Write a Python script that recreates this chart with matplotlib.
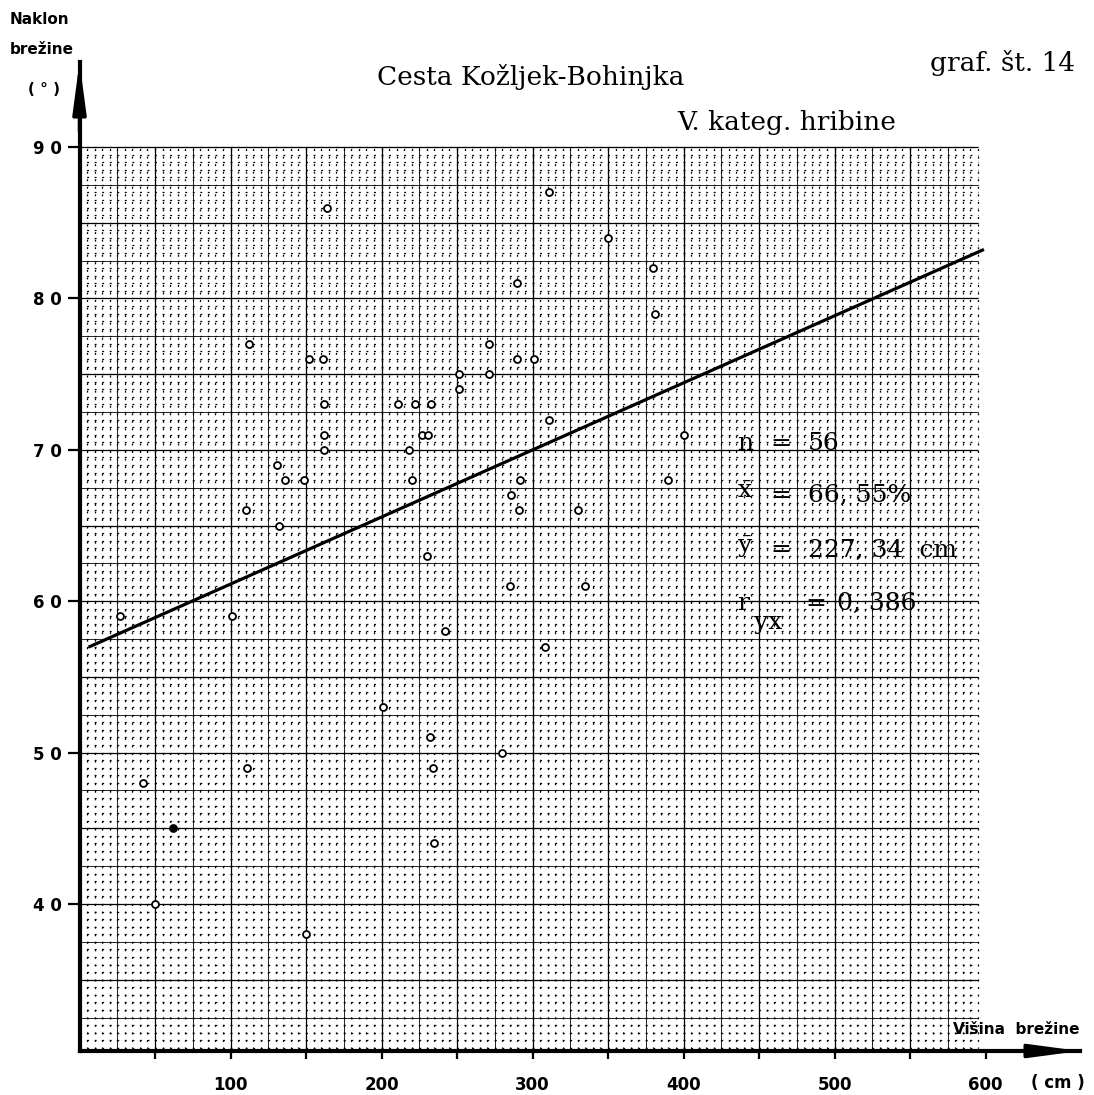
import numpy as np
import matplotlib
matplotlib.use("Agg")
import matplotlib.pyplot as plt

plt.rcParams['lines.scale_dashes'] = False
plt.rcParams['mathtext.fontset'] = 'dejavuserif'

W, H = 1094, 1095
DPI = 100

# measured points: height of slope (cm) vs slope angle (deg)
height_cm = [27, 42, 50, 101, 110, 111, 112, 131, 132, 136, 149, 150, 152,
             161, 162, 162, 162, 164, 201, 211, 218, 220, 222, 227, 231, 230,
             232, 233, 234, 235, 242, 251, 251, 271, 271, 280, 286, 285, 290,
             290, 291, 292, 301, 308, 311, 311, 330, 335, 350, 380, 381, 390,
             400]
slope_deg = [59, 48, 40, 59, 66, 49, 77, 69, 65, 68, 68, 38, 76,
             76, 73, 71, 70, 86, 53, 73, 70, 68, 73, 71, 71, 63,
             51, 73, 49, 44, 58, 75, 74, 77, 75, 50, 67, 61, 81,
             76, 66, 68, 76, 57, 87, 72, 66, 61, 84, 82, 79, 68,
             71]
filled_height = [62]
filled_slope = [45]

# regression line y = a + b*x
reg_a = 56.7
reg_b = 0.0443
reg_x = [7, 598]

x_major = [100, 200, 300, 400, 500, 600]
x_minor = [50, 150, 250, 350, 450, 550]
y_ticks = [40, 50, 60, 70, 80, 90]
y_tick_labels = ['4 0', '5 0', '6 0', '7 0', '8 0', '9 0']

# pixel scale of the original sheet
px_cm = 1.51
px_deg = 15.14
x0_px, y90_px = 79.5, 147
axis_px, top_px, right_px = 1051, 62, 1080


def fx(px):
    return px / W


def fy(py):
    return 1 - py / H


fig = plt.figure(figsize=(W / DPI, H / DPI), dpi=DPI)
ax = fig.add_axes([fx(x0_px), fy(axis_px), (right_px - x0_px) / W,
                   (axis_px - top_px) / H])
ax.set_xlim(0, (right_px - x0_px) / px_cm)
ax.set_ylim(90 - (axis_px - y90_px) / px_deg, 90 + (y90_px - top_px) / px_deg)
ymin = ax.get_ylim()[0]

# graph paper
gx_max = 595
period = 7.55 * 72 / DPI
fine = (0.7, (1.4, period - 1.4))
fine_x = np.arange(0, gx_max + 1, 5)
fine_y = np.arange(30.5, 90.01, 0.5)
ax.vlines(fine_x, 30.5, 90, colors='k', linewidth=0.9, linestyles=[fine], zorder=1)
ax.hlines(fine_y, 0, gx_max, colors='k', linewidth=0.9, linestyles=[fine], zorder=1)
mid_x = np.arange(25, gx_max, 50)
mid_y = np.arange(32.5, 90, 5)
ax.vlines(mid_x, ymin, 90, colors='k', linewidth=0.6, zorder=2)
ax.hlines(mid_y, 0, gx_max, colors='k', linewidth=0.6, zorder=2)
big_x = np.arange(50, gx_max, 50)
big_y = np.arange(35, 90.01, 5)
ax.vlines(big_x, ymin, 90, colors='k', linewidth=0.9, zorder=2)
ax.hlines(big_y, 0, gx_max, colors='k', linewidth=0.9, zorder=2)

# regression line and points
reg_y = [reg_a + reg_b * v for v in reg_x]
ax.plot(reg_x, reg_y, color='k', linewidth=2.3, zorder=4)
ax.plot(height_cm, slope_deg, 'o', ms=5, mfc='white', mec='k', mew=1.3, zorder=5)
ax.plot(filled_height, filled_slope, 'o', ms=5, mfc='k', mec='k', mew=1.3, zorder=5)

# axes
for s in ['top', 'right']:
    ax.spines[s].set_visible(False)
for s in ['left', 'bottom']:
    ax.spines[s].set_linewidth(3)
    ax.spines[s].set_zorder(6)

tick_font = dict(family='DejaVu Sans', weight='bold', size=12)
ax.set_yticks(y_ticks)
ax.set_yticklabels(y_tick_labels, **tick_font)
ax.tick_params(axis='y', direction='out', length=8.5, width=1.6, pad=4)
ax.set_xticks(x_major)
ax.set_xticklabels([str(v) for v in x_major], **tick_font)
ax.set_xticks(x_minor, minor=True)
ax.tick_params(axis='x', which='both', direction='out', length=6, width=1.6, pad=12)

arrow = dict(arrowstyle='-|>,head_length=1.5,head_width=0.2', color='k',
             lw=2.5, mutation_scale=20, shrinkA=0, shrinkB=0)
ax.annotate('', xy=(1, 0), xytext=(0.9, 0), xycoords='axes fraction',
            arrowprops=arrow, annotation_clip=False, zorder=7)
ax.annotate('', xy=(0, 1), xytext=(0, 0.93), xycoords='axes fraction',
            arrowprops=arrow, annotation_clip=False, zorder=7)

# axis captions
lab = dict(family='DejaVu Sans', weight='bold', size=11, va='center', ha='left')
fig.text(fx(10), fy(20), 'Naklon', **lab)
fig.text(fx(10), fy(49), 'brežine', **lab)
fig.text(fx(28), fy(90), '( ° )', **lab)
fig.text(fx(953), fy(1030), 'Višina  brežine', **lab)
fig.text(fx(1058), fy(1083), '( cm )', family='DejaVu Sans', weight='bold',
         size=12, va='center', ha='center')

# titles
serif = dict(family='DejaVu Serif', size=19, va='center')
fig.text(fx(531), fy(77), 'Cesta Kožljek-Bohinjka', ha='center', **serif)
fig.text(fx(787), fy(122), 'V. kateg. hribine', ha='center', **serif)
fig.text(fx(1003), fy(63), 'graf. št. 14', ha='center', **serif)

# statistics
st = dict(family='DejaVu Serif', size=18, va='center', ha='left')
fig.text(fx(737), fy(443), 'n', **st)
fig.text(fx(770), fy(443), '=', **st)
fig.text(fx(808), fy(443), '56', **st)
fig.text(fx(737), fy(492), r'$\bar{\mathrm{x}}$', **st)
fig.text(fx(770), fy(495), '=', **st)
fig.text(fx(808), fy(495), '66, 55%', **st)
fig.text(fx(737), fy(547), r'$\bar{\mathrm{y}}$', **st)
fig.text(fx(770), fy(550), '=', **st)
fig.text(fx(808), fy(550), '227, 34  cm', **st)
fig.text(fx(737), fy(603), 'r', **st)
fig.text(fx(754), fy(622), 'yx', **st)
fig.text(fx(805), fy(603), '=', **st)
fig.text(fx(837), fy(603), '0, 386', **st)

fig.savefig('out.png', dpi=DPI, facecolor='white')
